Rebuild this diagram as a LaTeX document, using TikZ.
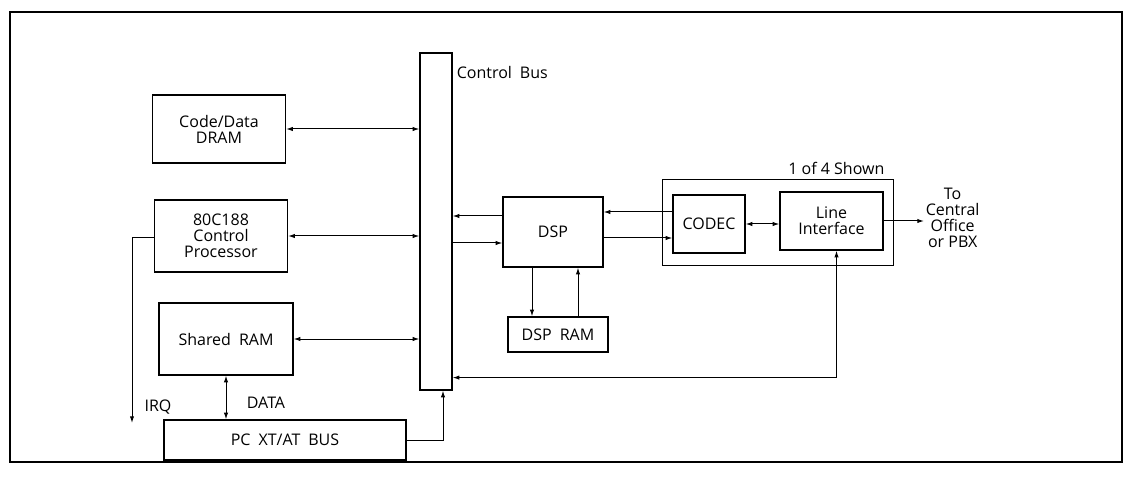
\documentclass[tikz,border=0pt]{standalone}
\usepackage{fontspec}
\setmainfont{Open Sans}
\usetikzlibrary{arrows.meta,positioning,fit,calc}

\begin{document}
\begin{tikzpicture}[
  x=0.75pt, y=-0.75pt,
  font=\fontsize{12}{12}\selectfont,
  line width=0.75pt,
  block/.style={draw, line width=0.9pt, align=center, inner sep=2pt},
  lbl/.style={align=center, inner sep=1pt},
  >={Latex[length=5pt,width=3.2pt]}]
  \useasboundingbox (0,0) rectangle (1138,477);
  \draw[line width=1pt] (10,12) rectangle (1122,462);
  % bus and the blocks on its left
  \node[block, minimum width=24pt, minimum height=252.75pt] (bus) at (436,221.5) {};
  \node[lbl, anchor=west] (buslbl) at (455,73) {Control\enspace Bus};
  \node[block, minimum width=99.75pt, minimum height=51pt] (dram) at (219,129) {Code/Data\\ DRAM};
  \node[block, minimum width=99.75pt, minimum height=54pt] (cpu) at (221,236) {80C188\\ Control\\ Processor};
  \node[block, minimum width=100.5pt, minimum height=54pt] (sram) at (226,339) {Shared\enspace RAM};
  \node[block, minimum width=181.5pt, minimum height=30pt] (pcbus) at (285,440) {PC\enspace XT/AT\enspace BUS};
  \coordinate (irq) at (132,423);
  \node[lbl] (irqlbl) at (158,407) {IRQ};
  \node[lbl] (datalbl) at (266,403) {DATA};
  % DSP side
  \node[block, minimum width=75pt, minimum height=52.5pt] (dsp) at (553,232) {DSP};
  \node[block, minimum width=75pt, minimum height=26.25pt] (dspram) at (558,334.5) {DSP\enspace RAM};
  \node[block, minimum width=54pt, minimum height=43.5pt] (codec) at (709,224) {CODEC};
  \node[block, minimum width=77.25pt, minimum height=43.5pt] (lif) at (831.5,221) {Line\\ Interface};
  \node[draw, line width=0.9pt, fit=(codec)(lif), inner xsep=7.5pt, inner ysep=9pt] (grp) {};
  \node[lbl, above left=2pt and 6pt of grp.north east] (grplbl) {1 of 4 Shown};
  \node[lbl, anchor=west] (co) at (924,218) {To\\ Central\\ Office\\ or PBX};
  % connectors
  \draw[<->] (dram.east) -- (dram.east -| bus.west);
  \draw[<->] (cpu.east) -- (cpu.east -| bus.west);
  \draw[<->] (sram.east) -- (sram.east -| bus.west);
  \draw[->] ($(cpu.west)+(0,2)$) -| (irq);
  \draw[<->] (sram.south) -- (sram.south |- pcbus.north);
  \draw[->] (pcbus.east) -| ($(bus.south)+(7,0)$);
  \draw[->] ($(dsp.west)+(0,-16)$) -- ($(bus.east |- dsp.west)+(0,-16)$);
  \draw[->] ($(bus.east |- dsp.west)+(0,11)$) -- ($(dsp.west)+(0,11)$);
  \draw[->] ($(dsp.south)+(-21,0)$) -- ($(dspram.north)+(-26,0)$);
  \draw[->] ($(dspram.north)+(20,0)$) -- ($(dsp.south)+(25,0)$);
  \draw[->] ($(codec.west)+(0,-12)$) -- ($(dsp.east |- codec.west)+(0,-12)$);
  \draw[->] ($(dsp.east |- codec.west)+(0,14)$) -- ($(codec.west)+(0,14)$);
  \draw[<->] (codec.east) -- (codec.east -| lif.west);
  \draw[->] (lif.east) -- (lif.east -| co.west);
  \draw[<->] ($(lif.south)+(5,0)$) |- ($(bus.south east)+(0,-13)$);
\end{tikzpicture}
\end{document}
